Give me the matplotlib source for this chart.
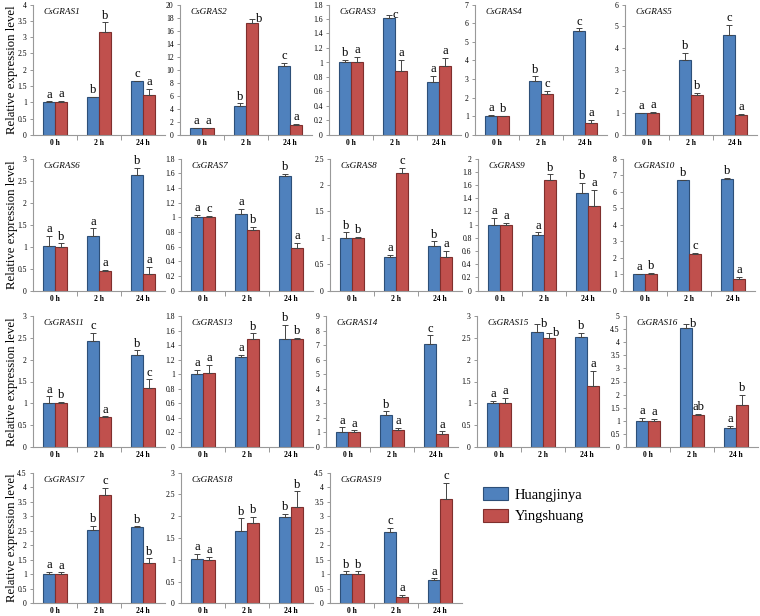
import matplotlib
matplotlib.use("Agg")
import matplotlib.pyplot as plt
from matplotlib.patches import Patch
from matplotlib.ticker import MultipleLocator, FormatStrFormatter, FixedLocator

plt.rcParams['font.family'] = ['Liberation Serif', 'DejaVu Serif']

times = ["0 h", "2 h", "24 h"]
cultivars = ["Huangjinya", "Yingshuang"]
genes = ["CsGRAS1", "CsGRAS2", "CsGRAS3", "CsGRAS4", "CsGRAS5",
         "CsGRAS6", "CsGRAS7", "CsGRAS8", "CsGRAS9", "CsGRAS10",
         "CsGRAS11", "CsGRAS13", "CsGRAS14", "CsGRAS15", "CsGRAS16",
         "CsGRAS17", "CsGRAS18", "CsGRAS19"]

huangjinya = [[1.0, 1.16, 1.65], [1.0, 4.4, 10.6], [1.0, 1.61, 0.73], [1.0, 2.9, 5.57], [1.0, 3.47, 4.62],
              [1.02, 1.23, 2.63], [1.0, 1.04, 1.56], [1.0, 0.63, 0.85], [1.0, 0.84, 1.47], [1.0, 6.67, 6.77],
              [1.01, 2.42, 2.1], [1.0, 1.23, 1.48], [1.05, 2.18, 7.1], [1.0, 2.63, 2.52], [1.0, 4.53, 0.74],
              [1.0, 2.52, 2.62], [1.01, 1.65, 1.98], [1.0, 2.46, 0.79]]
huangjinya_err = [[0.03, 0.01, 0.02], [0.05, 0.45, 0.5], [0.04, 0.04, 0.09], [0.08, 0.25, 0.15], [0.02, 0.3, 0.43],
                  [0.23, 0.18, 0.16], [0.03, 0.07, 0.03], [0.1, 0.04, 0.08], [0.1, 0.04, 0.16], [0.02, 0.05, 0.05],
                  [0.15, 0.2, 0.11], [0.06, 0.04, 0.2], [0.3, 0.27, 0.57], [0.05, 0.18, 0.1], [0.1, 0.18, 0.08],
                  [0.08, 0.15, 0.03], [0.12, 0.3, 0.08], [0.1, 0.14, 0.07]]
yingshuang = [[1.0, 3.17, 1.24], [1.0, 17.1, 1.6], [1.0, 0.88, 0.95], [1.0, 2.2, 0.62], [1.0, 1.85, 0.9],
              [1.0, 0.45, 0.37], [1.0, 0.83, 0.58], [1.0, 2.22, 0.63], [1.0, 1.68, 1.28], [1.0, 2.22, 0.72],
              [1.0, 0.68, 1.35], [1.01, 1.48, 1.49], [1.02, 1.15, 0.92], [1.01, 2.5, 1.4], [1.0, 1.22, 1.6],
              [1.0, 3.73, 1.4], [1.0, 1.85, 2.22], [1.0, 0.23, 3.61]]
yingshuang_err = [[0.04, 0.28, 0.18], [0.05, 0.7, 0.12], [0.08, 0.16, 0.11], [0.03, 0.18, 0.2], [0.06, 0.1, 0.08],
                  [0.07, 0.02, 0.16], [0.02, 0.04, 0.07], [0.02, 0.1, 0.12], [0.03, 0.08, 0.24], [0.05, 0.08, 0.1],
                  [0.04, 0.02, 0.2], [0.12, 0.08, 0.01], [0.12, 0.15, 0.16], [0.12, 0.1, 0.35], [0.08, 0.05, 0.38],
                  [0.07, 0.25, 0.15], [0.07, 0.13, 0.35], [0.1, 0.07, 0.55]]
huangjinya_sig = [["a", "b", "c"], ["a", "b", "c"], ["b", "c", "a"], ["a", "b", "c"], ["a", "b", "c"],
                  ["a", "a", "b"], ["a", "a", "b"], ["b", "a", "b"], ["a", "a", "b"], ["a", "b", "b"],
                  ["a", "c", "b"], ["a", "a", "b"], ["a", "b", "c"], ["a", "b", "b"], ["a", "b", "a"],
                  ["a", "b", "b"], ["a", "b", "b"], ["b", "c", "a"]]
yingshuang_sig = [["a", "b", "a"], ["a", "b", "a"], ["a", "a", "a"], ["b", "c", "a"], ["a", "b", "a"],
                  ["b", "a", "a"], ["c", "b", "a"], ["b", "c", "a"], ["a", "b", "a"], ["b", "c", "a"],
                  ["b", "a", "c"], ["a", "b", "b"], ["a", "a", "a"], ["a", "b", "a"], ["a", "ab", "b"],
                  ["a", "c", "b"], ["a", "b", "b"], ["b", "a", "c"]]
# letters that Excel pushed beside the error cap: (panel, series, time)
side_labels = {(1, 1, 1), (2, 0, 1), (13, 0, 1), (13, 1, 1), (14, 0, 1)}

y_max = [4, 20, 1.8, 7, 6, 3, 1.8, 2.5, 2, 8, 3, 1.8, 9, 3, 5, 4.5, 3, 4.5]
y_step = [0.5, 2, 0.2, 1, 1, 0.5, 0.2, 0.5, 0.2, 1, 0.5, 0.2, 1, 0.5, 0.5, 0.5, 0.5, 0.5]

# layout in pixels
W, H = 760, 616
row_lefts = [[33, 180, 329, 475, 625], [33, 181, 330, 478, 623],
             [33, 181, 326, 477, 626], [33, 181, 330]]
row_span = [(4.5, 135), (158.5, 290.5), (316, 447), (472.7, 603.3)]
ax_w = 132

colors = ["#4F81BD", "#C0504D"]
edges = ["#2D4F78", "#7F2F2D"]
bw = 0.28

fig = plt.figure(figsize=(W / 100, H / 100), dpi=100)

k = 0
for r, lefts in enumerate(row_lefts):
    top, bot = row_span[r]
    for L in lefts:
        ax = fig.add_axes([L / W, 1 - bot / H, ax_w / W, (bot - top) / H])
        series = [(huangjinya[k], huangjinya_err[k], huangjinya_sig[k]),
                  (yingshuang[k], yingshuang_err[k], yingshuang_sig[k])]
        for s, (vals, errs, sig) in enumerate(series):
            xs = [i + (s - 0.5) * bw for i in range(3)]
            ax.bar(xs, vals, width=bw, color=colors[s], edgecolor=edges[s], linewidth=0.8, zorder=2)
            ax.errorbar(xs, vals, yerr=[[0] * 3, errs], fmt='none', ecolor='#444444',
                        elinewidth=0.7, capsize=2, capthick=0.7, zorder=3)
            for i in range(3):
                yt = vals[i] + errs[i]
                if (k, s, i) in side_labels:
                    ax.annotate(sig[i], (xs[i], yt), xytext=(5, 0), textcoords='offset points',
                                ha='center', va='center', fontsize=9, annotation_clip=False)
                else:
                    ax.annotate(sig[i], (xs[i], yt), xytext=(0, 0.5), textcoords='offset points',
                                ha='center', va='bottom', fontsize=9, annotation_clip=False)
        ax.set_xlim(-0.5, 2.5)
        ax.set_ylim(0, y_max[k])
        ax.yaxis.set_major_locator(MultipleLocator(y_step[k]))
        ax.yaxis.set_major_formatter(FormatStrFormatter('%g'))
        ax.set_xticks(range(3))
        ax.set_xticklabels(times, fontsize=5.5, fontweight='bold')
        ax.xaxis.set_minor_locator(FixedLocator([0.5, 1.5]))
        ax.tick_params(axis='x', which='major', length=0, pad=3)
        ax.tick_params(axis='x', which='minor', length=3.5, width=0.6, color='#888888', direction='out')
        ax.tick_params(axis='y', labelsize=5.5, length=2.5, width=0.6, color='#888888', pad=2)
        for sp in ['top', 'right']:
            ax.spines[sp].set_visible(False)
        for sp in ['left', 'bottom']:
            ax.spines[sp].set_color('#999999')
            ax.spines[sp].set_linewidth(0.8)
        ax.text(0.08, 0.945, genes[k], transform=ax.transAxes, fontsize=6.6, style='italic',
                ha='left', va='center')
        k += 1
    fig.text(12 / W, 1 - (top + bot) / 2 / H, "Relative expression level", rotation=90,
             ha='center', va='center', fontsize=9.2)

handles = [Patch(facecolor=colors[i], edgecolor=edges[i], linewidth=0.8) for i in range(2)]
fig.legend(handles, cultivars, loc='upper left', bbox_to_anchor=(483 / W, 1 - 487 / H),
           frameon=False, fontsize=10.5, handlelength=1.7, handleheight=1.0,
           handletextpad=0.5, labelspacing=0.48, borderpad=0, borderaxespad=0)

fig.savefig("out.png", dpi=100)
